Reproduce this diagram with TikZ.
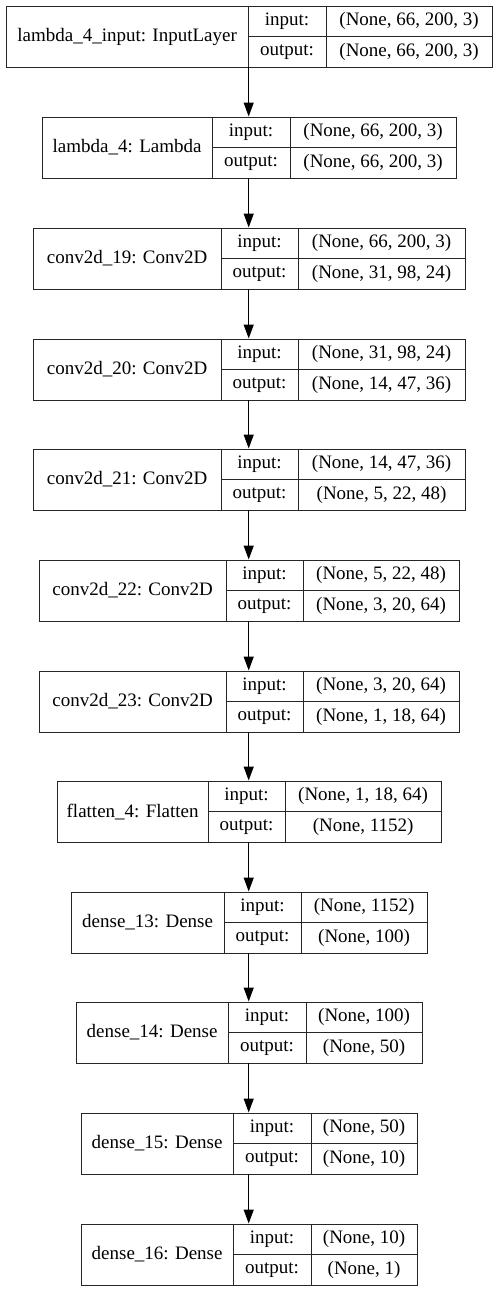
\documentclass[tikz,border=0pt]{standalone}
\usepackage{fontspec}
\setmainfont{Liberation Serif}
\usetikzlibrary{arrows.meta}
\tikzset{
  cell/.style={draw=black!85, line width=1.2pt, rectangle, inner sep=0pt, anchor=north west, font=\fontsize{19}{22}\selectfont},
  hull/.style={rectangle, inner sep=0pt, anchor=north west, minimum height=61},
  flow/.style={draw=black, line width=1.2pt, -{Triangle[length=14pt,width=10pt]}}
}
% #1 id, #2 top, #3 left, #4 div1, #5 div2, #6 right, #7 name, #8 in, #9 out
\newcommand\kerasrec[9]{%
  \node[hull, minimum width={#6-#3}] (#1) at (#3,#2) {};
  \node[cell, minimum width={#4-#3}, minimum height=61] (#1-name) at (#3,#2) {#7};
  \node[cell, minimum width={#5-#4}, minimum height=30.5] (#1-il) at (#4,#2) {input:};
  \node[cell, minimum width={#5-#4}, minimum height=30.5] (#1-ol) at (#4,#2+30.5) {output:};
  \node[cell, minimum width={#6-#5}, minimum height=30.5] (#1-iv) at (#5,#2) {#8};
  \node[cell, minimum width={#6-#5}, minimum height=30.5] (#1-ov) at (#5,#2+30.5) {#9};
}
\begin{document}
\begin{tikzpicture}[x=1pt,y=-1pt]
\useasboundingbox (0,0) rectangle (497,1291);
\kerasrec{l1}{5.5}{5.5}{247.5}{325.5}{491.5}{lambda\_4\_input: InputLayer}{(None, 66, 200, 3)}{(None, 66, 200, 3)}
\kerasrec{l2}{116.5}{41.5}{211.5}{289.5}{455.5}{lambda\_4: Lambda}{(None, 66, 200, 3)}{(None, 66, 200, 3)}
\kerasrec{l3}{227.5}{32.5}{220.5}{297.5}{464.5}{conv2d\_19: Conv2D}{(None, 66, 200, 3)}{(None, 31, 98, 24)}
\kerasrec{l4}{338.5}{32.5}{220.5}{297.5}{464.5}{conv2d\_20: Conv2D}{(None, 31, 98, 24)}{(None, 14, 47, 36)}
\kerasrec{l5}{448.5}{32.5}{220.5}{297.5}{464.5}{conv2d\_21: Conv2D}{(None, 14, 47, 36)}{(None, 5, 22, 48)}
\kerasrec{l6}{559.5}{38.5}{225.5}{302.5}{458.5}{conv2d\_22: Conv2D}{(None, 5, 22, 48)}{(None, 3, 20, 64)}
\kerasrec{l7}{670.5}{38.5}{225.5}{302.5}{458.5}{conv2d\_23: Conv2D}{(None, 3, 20, 64)}{(None, 1, 18, 64)}
\kerasrec{l8}{780.5}{56.5}{207.5}{284.5}{440.5}{flatten\_4: Flatten}{(None, 1, 18, 64)}{(None, 1152)}
\kerasrec{l9}{891.5}{70.5}{223.5}{300.5}{426.5}{dense\_13: Dense}{(None, 1152)}{(None, 100)}
\kerasrec{l10}{1001.5}{75.5}{227.5}{305.5}{421.5}{dense\_14: Dense}{(None, 100)}{(None, 50)}
\kerasrec{l11}{1112.5}{80.5}{232.5}{310.5}{416.5}{dense\_15: Dense}{(None, 50)}{(None, 10)}
\kerasrec{l12}{1223.5}{80.5}{232.5}{310.5}{416.5}{dense\_16: Dense}{(None, 10)}{(None, 1)}
\foreach \a/\b in {l1/l2,l2/l3,l3/l4,l4/l5,l5/l6,l6/l7,l7/l8,l8/l9,l9/l10,l10/l11,l11/l12}
  \draw[flow] (\a.south) -- (\b.north);
\end{tikzpicture}
\end{document}
